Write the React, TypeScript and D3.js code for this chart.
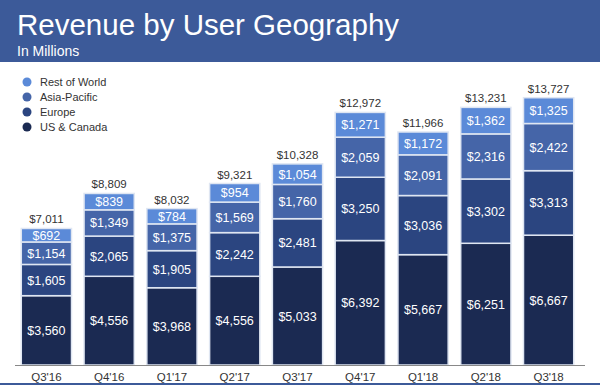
import * as d3 from "d3";

const quarters = ["Q3'16", "Q4'16", "Q1'17", "Q2'17", "Q3'17", "Q4'17", "Q1'18", "Q2'18", "Q3'18"];
const usCanada = [3560, 4556, 3968, 4556, 5033, 6392, 5667, 6251, 6667];
const europe = [1605, 2065, 1905, 2242, 2481, 3250, 3036, 3302, 3313];
const asiaPacific = [1154, 1349, 1375, 1569, 1760, 2059, 2091, 2316, 2422];
const restOfWorld = [692, 839, 784, 954, 1054, 1271, 1172, 1362, 1325];
const totals = [7011, 8809, 8032, 9321, 10328, 12972, 11966, 13231, 13727];

const seriesNames = ["US & Canada", "Europe", "Asia-Pacific", "Rest of World"];
const seriesColors = ["#1b2a52", "#2b4580", "#4565a8", "#5b8ad8"];

const W = 600;
const H = 385;
const font = "Liberation Sans, Arial, sans-serif";

export default function App() {
  const rows = quarters.map((q, i) => ({
    q,
    "US & Canada": usCanada[i],
    Europe: europe[i],
    "Asia-Pacific": asiaPacific[i],
    "Rest of World": restOfWorld[i],
  }));
  const stack = d3.stack<any>().keys(seriesNames)(rows);

  const x = d3.scaleBand().domain(quarters).range([15, 580]).paddingInner(0.2).paddingOuter(0.1);
  const y = d3.scaleLinear().domain([0, 14000]).range([365, 92.4]);
  const fmt = (v: number) => "$" + d3.format(",")(v);

  // legend is listed top-down from the top series
  const legendOrder = [3, 2, 1, 0];

  return (
    <svg width={W} height={H} style={{ position: "absolute", left: 0, top: 0, fontFamily: font }}>
      <rect x={0} y={0} width={W} height={H} fill="#fff" />
      <rect x={0} y={0} width={W} height={62} fill="#3c5a99" />
      <text x={17} y={35} fill="#fff" fontSize={29.5}>Revenue by User Geography</text>
      <text x={17} y={56} fill="#fff" fontSize={14}>In Millions</text>

      {legendOrder.map((s, i) => (
        <g key={s} transform={`translate(27,${82 + i * 15})`}>
          <circle r={4.5} fill={seriesColors[s]} />
          <text x={13} y={4} fontSize={11} fill="#333">{seriesNames[s]}</text>
        </g>
      ))}

      {stack.map((layer, si) => (
        <g key={layer.key}>
          {layer.map((d, i) => {
            const x0 = x(quarters[i])!;
            const bw = x.bandwidth();
            const yt = y(d[1]);
            const yb = y(d[0]);
            return (
              <g key={i}>
                <rect x={x0} y={yt} width={bw} height={yb - yt} fill={seriesColors[si]} stroke="#dfe6f2" strokeWidth={1.5} />
                <text x={x0 + bw / 2} y={(yt + yb) / 2 + 4.5} textAnchor="middle" fontSize={12.5} fill="#fff">
                  {fmt(d[1] - d[0])}
                </text>
              </g>
            );
          })}
        </g>
      ))}

      {totals.map((t, i) => (
        <text key={i} x={x(quarters[i])! + x.bandwidth() / 2} y={y(t) - 5} textAnchor="middle" fontSize={11.5} fill="#333">
          {fmt(t)}
        </text>
      ))}

      <line x1={15} x2={585} y1={365.5} y2={365.5} stroke="#888" strokeWidth={1} />
      {quarters.map((q) => (
        <text key={q} x={x(q)! + x.bandwidth() / 2} y={381} textAnchor="middle" fontSize={11.5} fill="#333">
          {q}
        </text>
      ))}
      <rect x={0} y={383} width={W} height={2} fill="#3c5a99" />
    </svg>
  );
}
